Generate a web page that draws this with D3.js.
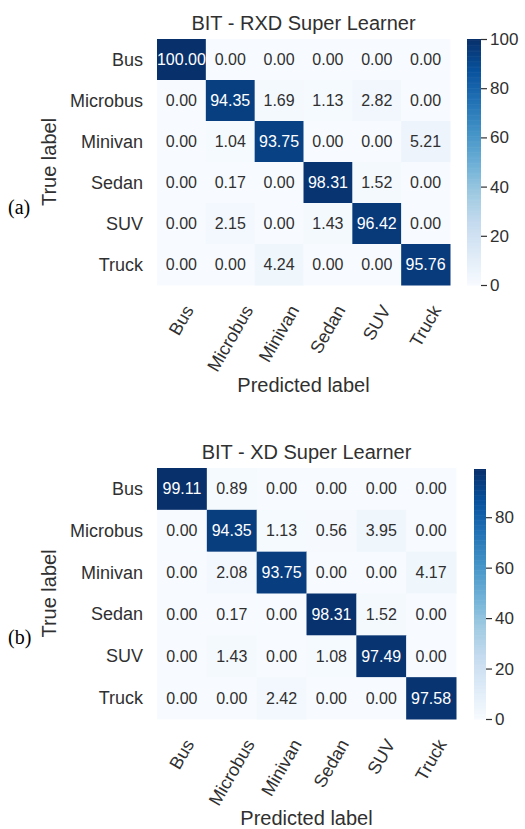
<!DOCTYPE html>
<html>
<head>
<meta charset="utf-8">
<script src="https://cdn.jsdelivr.net/npm/d3@7"></script>
<style>
  html, body { margin: 0; padding: 0; background: #fff; }
  svg { display: block; }
  text { font-family: "Liberation Sans", Arial, sans-serif; }
</style>
</head>
<body>
<svg id="chart" width="525" height="829"></svg>
<script>
const categories = ["Bus", "Microbus", "Minivan", "Sedan", "SUV", "Truck"];

const valuesRXD = [
  [100.00, 0.00, 0.00, 0.00, 0.00, 0.00],
  [0.00, 94.35, 1.69, 1.13, 2.82, 0.00],
  [0.00, 1.04, 93.75, 0.00, 0.00, 5.21],
  [0.00, 0.17, 0.00, 98.31, 1.52, 0.00],
  [0.00, 2.15, 0.00, 1.43, 96.42, 0.00],
  [0.00, 0.00, 4.24, 0.00, 0.00, 95.76]
];

const valuesXD = [
  [99.11, 0.89, 0.00, 0.00, 0.00, 0.00],
  [0.00, 94.35, 1.13, 0.56, 3.95, 0.00],
  [0.00, 2.08, 93.75, 0.00, 0.00, 4.17],
  [0.00, 0.17, 0.00, 98.31, 1.52, 0.00],
  [0.00, 1.43, 0.00, 1.08, 97.49, 0.00],
  [0.00, 0.00, 2.42, 0.00, 0.00, 97.58]
];

const titles = ["BIT - RXD Super Learner", "BIT - XD Super Learner"];
const panelLabels = ["(a)", "(b)"];
const colorbarTicksRXD = [0, 20, 40, 60, 80, 100];
const colorbarTicksXD = [0, 20, 40, 60, 80];
const xAxisTitle = "Predicted label";
const yAxisTitle = "True label";

const svg = d3.select("#chart");
const DARK = "#303030";

function luminance(c) {
  const rgb = d3.rgb(c);
  const f = v => { v /= 255; return v <= 0.03928 ? v / 12.92 : Math.pow((v + 0.055) / 1.055, 2.4); };
  return 0.2126 * f(rgb.r) + 0.7152 * f(rgb.g) + 0.0722 * f(rgb.b);
}

function drawPanel(cfg) {
  const { data, title, panel, ticks, x0, x1, y0, y1, cbx0, cbx1, cby0, cby1 } = cfg;
  const g = svg.append("g");
  const vmax = d3.max(data.flat());
  const vmin = d3.min(data.flat());
  const blues = d3.schemeBlues[9];
  const color = d3.scaleLinear()
    .domain(d3.range(9).map(i => vmin + (vmax - vmin) * i / 8))
    .range(blues)
    .clamp(true);

  const xs = d3.scaleBand().domain(categories).range([x0, x1]);
  const ys = d3.scaleBand().domain(categories).range([y0, y1]);

  const cells = [];
  data.forEach((row, i) => row.forEach((v, j) => cells.push({ r: categories[i], c: categories[j], v })));
  g.selectAll("rect.cell").data(cells).enter().append("rect")
    .attr("class", "cell")
    .attr("x", d => xs(d.c))
    .attr("y", d => ys(d.r))
    .attr("width", xs.bandwidth() + 0.5)
    .attr("height", ys.bandwidth() + 0.5)
    .attr("fill", d => color(d.v));

  g.selectAll("text.annot").data(cells).enter().append("text")
    .attr("class", "annot")
    .attr("x", d => xs(d.c) + xs.bandwidth() / 2)
    .attr("y", d => ys(d.r) + ys.bandwidth() / 2)
    .attr("text-anchor", "middle")
    .attr("dominant-baseline", "central")
    .attr("font-size", 16)
    .attr("fill", d => luminance(color(d.v)) > 0.408 ? DARK : "#ffffff")
    .text(d => d.v.toFixed(2));

  g.selectAll("text.rowlab").data(categories).enter().append("text")
    .attr("class", "rowlab")
    .attr("x", x0 - 14)
    .attr("y", d => ys(d) + ys.bandwidth() / 2)
    .attr("text-anchor", "end")
    .attr("dominant-baseline", "central")
    .attr("font-size", 18)
    .attr("fill", DARK)
    .text(d => d);

  const angle = 60 * Math.PI / 180;
  const fs = 18;
  g.selectAll("text.collab").data(categories).enter().append("text")
    .attr("class", "collab")
    .attr("text-anchor", "middle")
    .attr("dominant-baseline", "central")
    .attr("font-size", fs)
    .attr("fill", DARK)
    .text(d => d)
    .each(function (d) {
      const w = this.getComputedTextLength();
      const h = fs * 0.85;
      const bh = w * Math.sin(angle) + h * Math.cos(angle);
      const cx = xs(d) + xs.bandwidth() / 2;
      const cy = y1 + 18 + bh / 2;
      d3.select(this).attr("transform", `translate(${cx},${cy}) rotate(-60)`);
    });

  g.append("text")
    .attr("x", (x0 + x1) / 2)
    .attr("y", y0 - 9)
    .attr("text-anchor", "middle")
    .attr("font-size", 20)
    .attr("fill", DARK)
    .text(title);

  g.append("text")
    .attr("x", (x0 + x1) / 2)
    .attr("y", cfg.xTitleY)
    .attr("text-anchor", "middle")
    .attr("font-size", 20)
    .attr("fill", DARK)
    .text(xAxisTitle);

  g.append("text")
    .attr("transform", `translate(56,${(y0 + y1) / 2}) rotate(-90)`)
    .attr("text-anchor", "middle")
    .attr("font-size", 20)
    .attr("fill", DARK)
    .text(yAxisTitle);

  g.append("text")
    .attr("x", 8)
    .attr("y", cfg.panelY)
    .style("font-family", "'Liberation Serif', 'Times New Roman', serif")
    .attr("font-size", 20)
    .attr("fill", "#000")
    .text(panel);

  const cy = d3.scaleLinear().domain([vmin, vmax]).range([cby1, cby0]);
  const steps = d3.range(0, 200);
  const stepH = (cby1 - cby0) / steps.length;
  g.selectAll("rect.cb").data(steps).enter().append("rect")
    .attr("class", "cb")
    .attr("x", cbx0)
    .attr("width", cbx1 - cbx0)
    .attr("y", i => cby1 - (i + 1) * stepH)
    .attr("height", stepH + 0.6)
    .attr("fill", i => color(vmin + (vmax - vmin) * (i + 0.5) / steps.length));

  const axis = d3.axisRight(cy).tickValues(ticks).tickSize(6).tickPadding(3).tickFormat(d3.format("d"));
  const ag = g.append("g").attr("transform", `translate(${cbx1},0)`).call(axis);
  ag.select(".domain").remove();
  ag.selectAll(".tick line").attr("stroke", DARK).attr("stroke-width", 1.2);
  ag.selectAll(".tick text").attr("fill", DARK).attr("font-size", 17)
    .attr("font-family", "'Liberation Sans', Arial, sans-serif");
}

drawPanel({
  data: valuesRXD, title: titles[0], panel: panelLabels[0], ticks: colorbarTicksRXD,
  x0: 157, x1: 450, y0: 39, y1: 285,
  cbx0: 467, cbx1: 481, cby0: 39, cby1: 285,
  xTitleY: 392, panelY: 214
});

drawPanel({
  data: valuesXD, title: titles[1], panel: panelLabels[1], ticks: colorbarTicksXD,
  x0: 157, x1: 456, y0: 468, y1: 719,
  cbx0: 474, cbx1: 486, cby0: 469, cby1: 719,
  xTitleY: 825, panelY: 644
});
</script>
</body>
</html>
